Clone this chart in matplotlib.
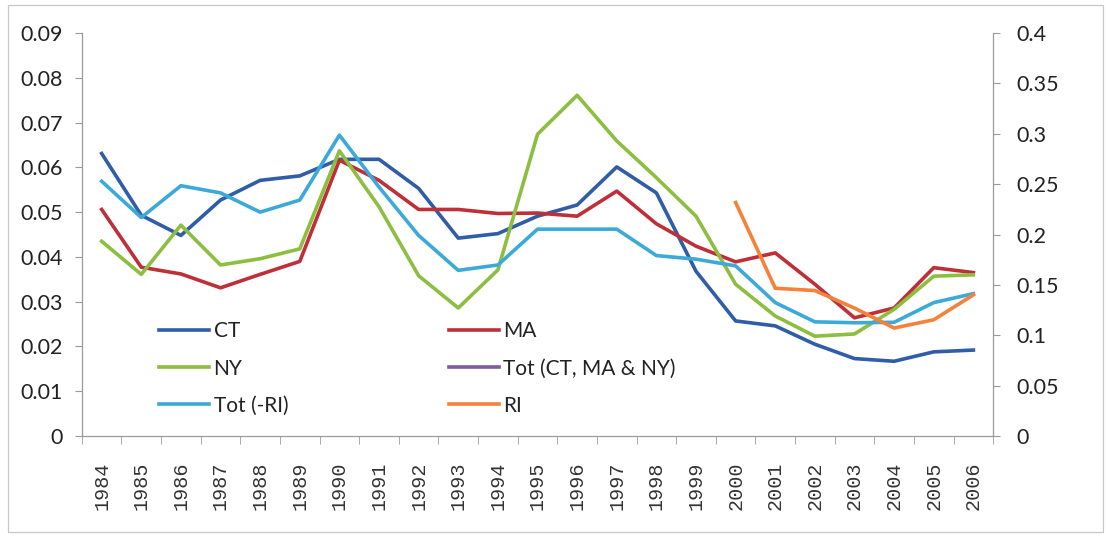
import matplotlib
matplotlib.use("Agg")
import matplotlib.pyplot as plt
from matplotlib.patches import Rectangle
from matplotlib.lines import Line2D
import numpy as np

years = [str(y) for y in range(1984, 2007)]

ct = [0.0631, 0.0493, 0.0448, 0.0527, 0.0571, 0.0581, 0.0618, 0.0618, 0.0553, 0.0442,
      0.0452, 0.0491, 0.0516, 0.0601, 0.0543, 0.0368, 0.0257, 0.0246, 0.0205, 0.0173,
      0.0167, 0.0188, 0.0192]
ma = [0.0506, 0.0377, 0.0362, 0.0331, 0.0361, 0.0390, 0.0616, 0.0571, 0.0506, 0.0506,
      0.0497, 0.0498, 0.0491, 0.0547, 0.0474, 0.0424, 0.0389, 0.0409, 0.0339, 0.0264,
      0.0286, 0.0376, 0.0365]
ny = [0.0435, 0.0361, 0.0471, 0.0382, 0.0396, 0.0418, 0.0637, 0.0512, 0.0358, 0.0286,
      0.0371, 0.0674, 0.0761, 0.0659, 0.0577, 0.0491, 0.0339, 0.0268, 0.0223, 0.0228,
      0.0283, 0.0357, 0.0360]
tot_ri = [0.0569, 0.0488, 0.0559, 0.0543, 0.0500, 0.0527, 0.0672, 0.0556, 0.0448, 0.0370,
          0.0382, 0.0462, 0.0462, 0.0462, 0.0403, 0.0395, 0.0380, 0.0298, 0.0255, 0.0253,
          0.0254, 0.0298, 0.0318]
ri_years = ["2000", "2001", "2002", "2003", "2004", "2005", "2006"]
ri = [0.2318, 0.1467, 0.1444, 0.1270, 0.1072, 0.1154, 0.1401]

left_ticks = [0, 0.01, 0.02, 0.03, 0.04, 0.05, 0.06, 0.07, 0.08, 0.09]
left_labels = ["0", "0.01", "0.02", "0.03", "0.04", "0.05", "0.06", "0.07", "0.08", "0.09"]
right_ticks = [0, 0.05, 0.1, 0.15, 0.2, 0.25, 0.3, 0.35, 0.4]
right_labels = ["0", "0.05", "0.1", "0.15", "0.2", "0.25", "0.3", "0.35", "0.4"]

C_CT = "#2F5DA8"
C_MA = "#BE2F38"
C_NY = "#8CBE3F"
C_TOT = "#3BAAD9"
C_TOTALL = "#7D5CA0"
C_RI = "#F5823A"
AX_C = "#9a9a9a"
TXT = "#222222"

plt.rcParams['font.family'] = ['Lato', 'DejaVu Sans']

fig = plt.figure(figsize=(11.06, 5.37), dpi=100)
ax = fig.add_axes([0.074, 0.188, 0.824, 0.7505])
ax2 = ax.twinx()

x = np.arange(len(years))
xri = np.array([years.index(y) for y in ri_years])
lw = 2.6
l_ct, = ax.plot(x, ct, color=C_CT, lw=lw, label="CT")
l_ma, = ax.plot(x, ma, color=C_MA, lw=lw, label="MA")
l_ny, = ax.plot(x, ny, color=C_NY, lw=lw, label="NY")
l_tot, = ax.plot(x, tot_ri, color=C_TOT, lw=lw, label="Tot (-RI)")
l_ri, = ax2.plot(xri, ri, color=C_RI, lw=lw, label="RI")
l_all = Line2D([], [], color=C_TOTALL, lw=lw, label="Tot (CT, MA & NY)")

ax.set_xlim(-0.5, len(years) - 0.5)
ax.set_ylim(0, 0.09)
ax2.set_ylim(0, 0.4)

ax.set_yticks(left_ticks)
ax.set_yticklabels(left_labels)
ax2.set_yticks(right_ticks)
ax2.set_yticklabels(right_labels)
ax.set_xticks(x)
ax.set_xticklabels(years, rotation=90, family=['Liberation Mono', 'DejaVu Sans Mono'])
ax.set_xticks(np.arange(-0.5, len(years)), minor=True)

for a in (ax, ax2):
    for s in a.spines.values():
        s.set_visible(False)
ax.spines['left'].set_visible(True)
ax.spines['bottom'].set_visible(True)
ax2.spines['right'].set_visible(True)
for s in (ax.spines['left'], ax.spines['bottom'], ax2.spines['right']):
    s.set_color(AX_C)
    s.set_linewidth(0.9)

ax.tick_params(axis='y', labelsize=15.5, length=5, color=AX_C, pad=9, labelcolor=TXT)
ax2.tick_params(axis='y', labelsize=15.5, length=5, color=AX_C, pad=12, labelcolor=TXT)
ax.tick_params(axis='x', which='major', length=0, labelsize=14.5, pad=18, labelcolor="#333333")
ax.tick_params(axis='x', which='minor', length=6, color=AX_C)

handles = [l_ct, l_ny, l_tot, l_ma, l_all, l_ri]
leg = ax.legend(handles=handles, ncol=2, loc='upper left',
                bbox_to_anchor=(0.076, 0.305), frameon=False,
                fontsize=15, handlelength=2.4, handletextpad=0.2,
                columnspacing=7.7, labelspacing=0.82, borderaxespad=0)
for t in leg.get_texts():
    t.set_color(TXT)

fig.patches.append(Rectangle((0.007, 0.009), 0.99, 0.982, transform=fig.transFigure,
                             fill=False, edgecolor="#c8c8c8", linewidth=0.9))

fig.savefig("out.png", dpi=100)
